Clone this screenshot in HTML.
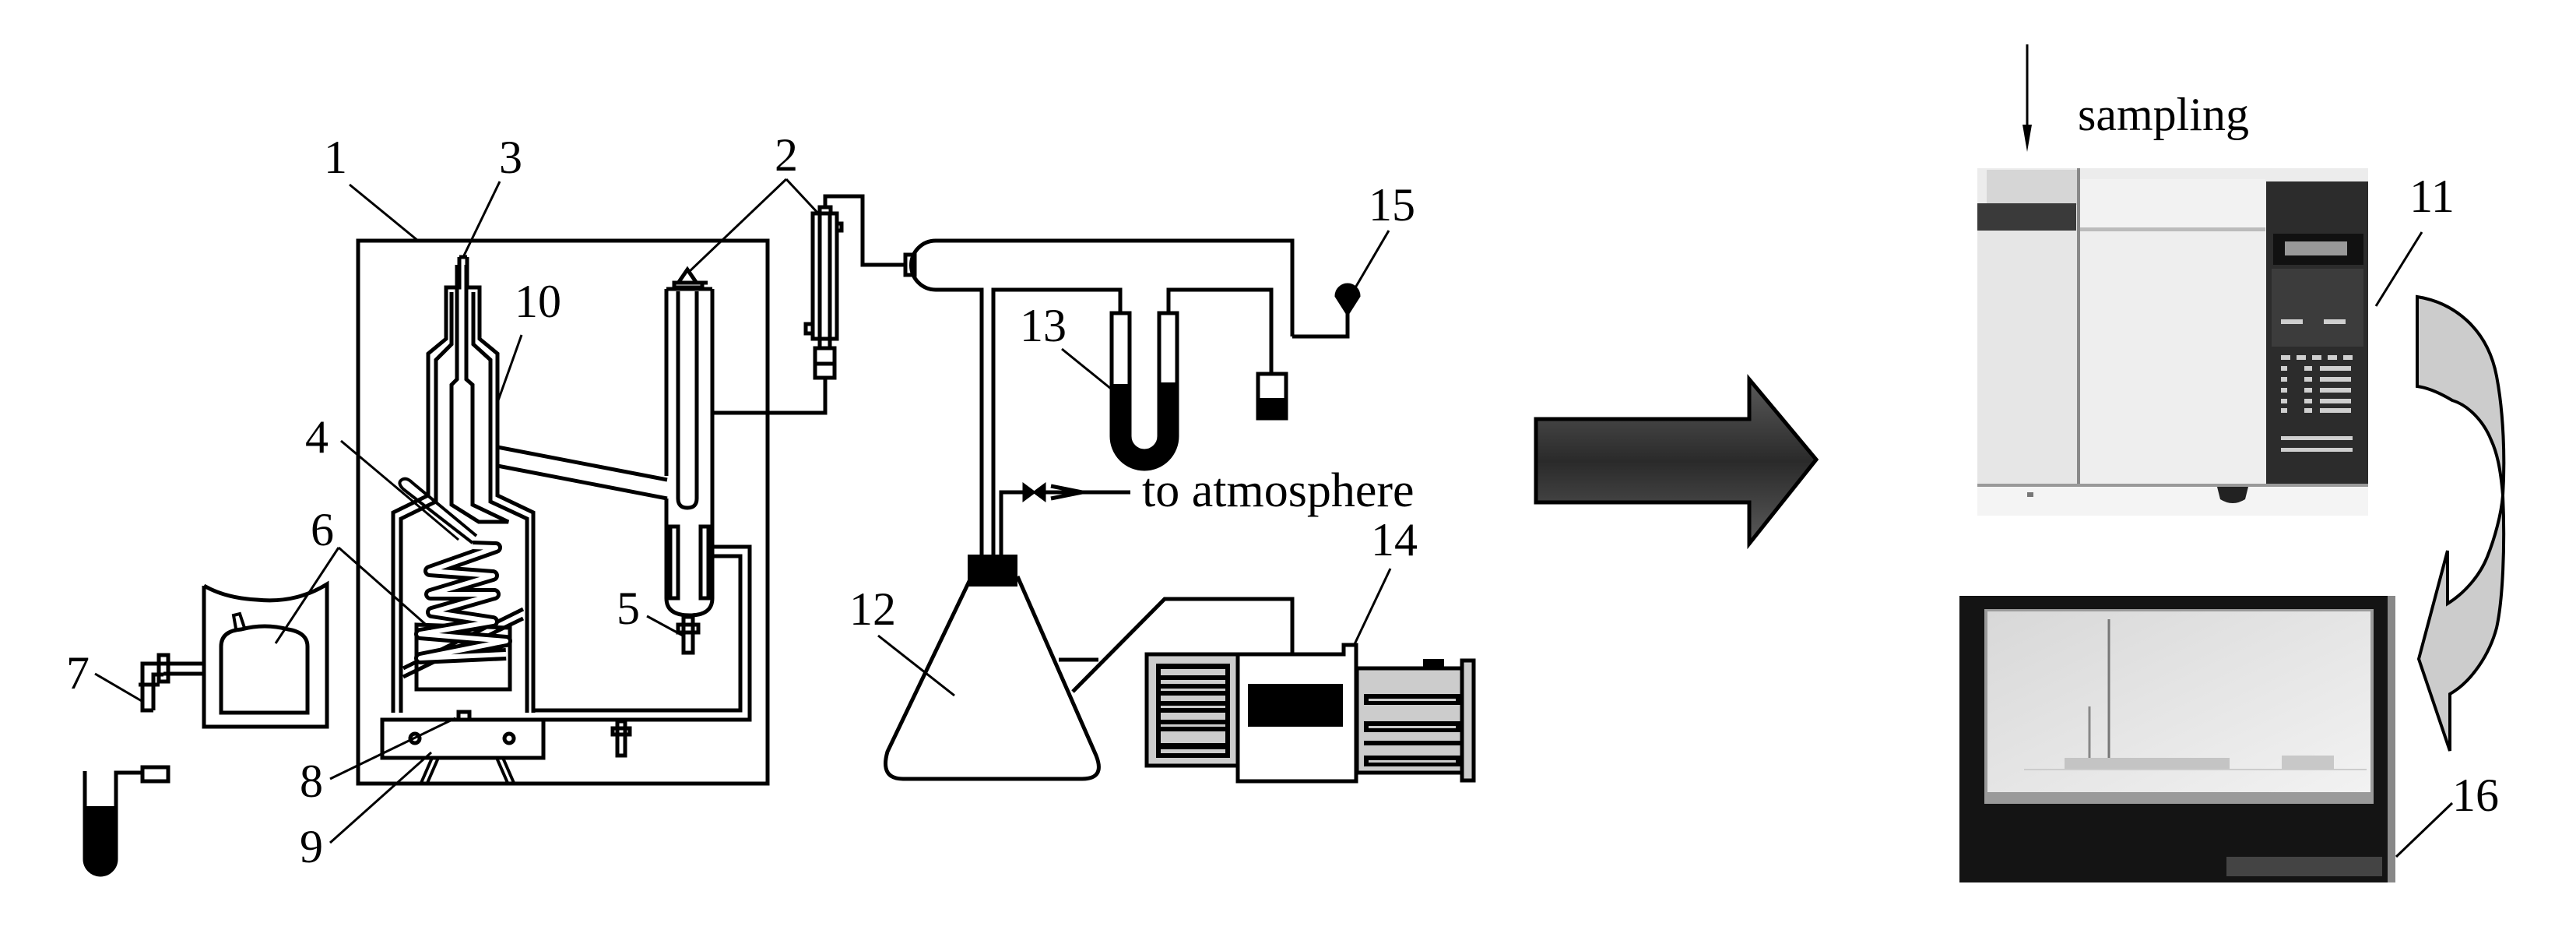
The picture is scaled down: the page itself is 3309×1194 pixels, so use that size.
<!DOCTYPE html>
<html><head><meta charset="utf-8"><style>
html,body{margin:0;padding:0;background:#fff;}
svg{display:block;}
text{font-family:"Liberation Serif",serif;fill:#000;}
</style></head><body>
<svg width="3309" height="1194" viewBox="0 0 3309 1194" xmlns="http://www.w3.org/2000/svg">
<defs>
<linearGradient id="ag" x1="0" y1="0" x2="0" y2="1">
<stop offset="0" stop-color="#5a5a5a"/><stop offset="0.5" stop-color="#2a2a2a"/><stop offset="1" stop-color="#5a5a5a"/>
</linearGradient>
<linearGradient id="scr" x1="0" y1="0" x2="1" y2="1">
<stop offset="0" stop-color="#d8d8d8"/><stop offset="1" stop-color="#f2f2f2"/>
</linearGradient>
</defs>
<g fill="none" stroke="#000" stroke-width="5" stroke-linejoin="miter">
<rect x="460" y="309" width="526" height="697"/>
<path d="M590,330 L590,369 L573,369 L573,435 L550,454 L550,636 L505,658 L505,915"/>
<path d="M600,330 L600,369 L616,369 L616,435 L639,454 L639,636 L685,658 L685,915"/>
<line x1="590" y1="330" x2="600" y2="330"/>
<path d="M580,375 L580,442 L560,462 L560,644 L515,666 L515,915"/>
<path d="M608,375 L608,442 L630,462 L630,644 L677,666 L677,915"/>
<path d="M587,340 L587,487 L580,494 L580,648 L615,670 L653,670 L607,648 L607,494 L599,487 L599,340"/>
<line x1="639" y1="574" x2="857" y2="616"/>
<line x1="639" y1="598" x2="857" y2="640"/>
<!-- condenser -->
<path d="M856,371 L856,611"/>
<path d="M856,640 L856,768 Q856,790 886,790 Q915,790 915,768 L915,371"/>
<line x1="856" y1="371" x2="915" y2="371"/>
<path d="M871,374 L871,640 Q871,652 883,652 Q895,652 895,640 L895,374"/>
<rect x="861" y="676" width="10" height="92"/>
<rect x="900" y="676" width="10" height="92"/>
<rect x="866" y="363" width="36" height="6"/>
<path d="M872,362 L883,346 L894,362"/>
<line x1="902" y1="363" x2="909" y2="363"/>
<rect x="878" y="792" width="12" height="46"/>
<rect x="871" y="802" width="26" height="10"/>
<path d="M915,702 L963,702 L963,924 L684,924"/>
<path d="M915,714 L951,714 L951,912 L684,912"/>
<rect x="793" y="926" width="10" height="44"/>
<rect x="787" y="935" width="22" height="8"/>
<path d="M915,530 L1060,530 L1060,485"/>
<rect x="1044" y="274" width="31" height="161"/>
<line x1="1053" y1="274" x2="1053" y2="435"/>
<line x1="1066" y1="274" x2="1066" y2="435"/>
<rect x="1053" y="266" width="14" height="8"/>
<rect x="1047" y="447" width="25" height="38"/>
<line x1="1047" y1="467" x2="1072" y2="467"/>
<line x1="1053" y1="435" x2="1053" y2="447"/><line x1="1066" y1="435" x2="1066" y2="447"/>
<rect x="1035" y="416" width="9" height="12"/>
<rect x="1075" y="287" width="6" height="9"/>
<path d="M1060,266 L1060,252 L1108,252 L1108,340 L1163,340"/>
<rect x="1163" y="327" width="12" height="26"/>
<path d="M1660,432 L1660,309 L1202,309 A31,31 0 0 0 1202,372 L1261,372 L1261,713"/>
<path d="M1276,713 L1276,372 L1439,372 L1439,402"/>
<path d="M1660,432 L1731,432 L1731,411"/>
<path d="M1501,402 L1501,372 L1633,372 L1633,480"/>
<rect x="1616" y="480" width="36" height="57"/>
<path d="M1428,402 L1428,560 A42,42 0 0 0 1512,560 L1512,402 L1489,402 L1489,560 A19,19 0 0 1 1451,560 L1451,402 Z"/>
<path d="M1286,713 L1286,632 L1316,632"/>
<line x1="1342" y1="632" x2="1452" y2="632"/>
<path d="M1350,624 L1390,632 L1350,640"/>
<path d="M1248,740 L1140,965 Q1130,1000 1160,1000 L1390,1000 Q1420,1000 1408,970 L1307,740"/>
<path d="M1360,847 L1411,847"/>
<path d="M1378,888 L1496,769 L1660,769 L1660,840"/>
<path d="M1731,411 L1731,402 L1717,380 A14,14 0 1 1 1745,380 L1731,402"/>
<rect x="491" y="924" width="207" height="49"/>
<circle cx="533" cy="948" r="6"/><circle cx="654" cy="948" r="6"/>
<rect x="589" y="914" width="14" height="10"/>
<path d="M541,1005 L555,973 M549,1005 L563,973 M638,973 L652,1005 M646,973 L660,1005" stroke-width="4"/>
<path d="M535,802 L655,806 L655,885 L535,885 Z"/>
<line x1="518" y1="858" x2="672" y2="782"/>
<line x1="518" y1="869" x2="672" y2="794"/>
<path d="M607,697 L518,628 Q510,620 516,616 Q522,612 530,620 L612,688" stroke-width="4"/>
<path d="M607,702 L637,703 L552,733 L633,739 L553,763 L635,763 L555,786 L633,798 L540,814 L650,823 L540,845 L650,840" stroke-width="16" stroke-linejoin="round"/>
<path d="M607,702 L637,703 L552,733 L633,739 L553,763 L635,763 L555,786 L633,798 L540,814 L650,823 L540,845 L650,840" stroke="#fff" stroke-width="6" stroke-linejoin="round"/>
<path d="M262,752 L262,933 L420,933 L420,750 Q380,775 330,770 Q290,768 262,752"/>
<path d="M284,915 L284,830 Q284,810 310,808 Q340,800 370,808 Q395,812 395,830 L395,915 Z"/>
<path d="M303,807 L300,790 L308,788 L314,806" stroke-width="4"/>
<path d="M210,852 L262,852 M210,865 L262,865"/>
<path d="M197,912 L183,912 L183,852 L210,852 M197,912 L197,866 L210,866"/>
<line x1="178" y1="879" x2="205" y2="879"/>
<rect x="204" y="841" width="12" height="34"/>
<path d="M109,990 L109,1103 A20,20 0 0 0 149,1103 L149,992 L183,992"/>
<rect x="183" y="985" width="33" height="18"/>
<g stroke-width="3">
<line x1="449" y1="237" x2="537" y2="309"/>
<line x1="642" y1="233" x2="596" y2="328"/>
<line x1="1010" y1="230" x2="884" y2="350"/>
<line x1="1010" y1="230" x2="1052" y2="275"/>
<line x1="670" y1="430" x2="640" y2="514"/>
<line x1="438" y1="566" x2="589" y2="693"/>
<line x1="435" y1="703" x2="354" y2="826"/>
<line x1="435" y1="703" x2="554" y2="808"/>
<line x1="831" y1="791" x2="877" y2="816"/>
<line x1="122" y1="865" x2="182" y2="900"/>
<line x1="424" y1="1000" x2="585" y2="922"/>
<line x1="424" y1="1082" x2="554" y2="966"/>
<line x1="1364" y1="448" x2="1427" y2="499"/>
<line x1="1784" y1="296" x2="1740" y2="371"/>
<line x1="1128" y1="816" x2="1226" y2="893"/>
<line x1="1786" y1="730" x2="1740" y2="827"/>
<line x1="3111" y1="298" x2="3052" y2="393"/>
<line x1="3150" y1="1031" x2="3078" y2="1100"/>
<line x1="2604" y1="57" x2="2604" y2="185"/>
</g>
</g>
<path d="M1428,493 L1451,493 L1451,560 A19,19 0 0 0 1489,560 L1489,491 L1512,491 L1512,560 A42,42 0 0 1 1428,560 Z" fill="#000"/>
<rect x="1616" y="511" width="36" height="27" fill="#000"/>
<rect x="1243" y="712" width="64" height="41" fill="#000"/>
<path d="M1315,622 L1342,642 L1342,622 L1315,642 Z" fill="#000" stroke="#000" stroke-width="3"/>
<path d="M1717,380 A14,14 0 1 1 1745,380 L1731,402 Z" fill="#000"/>
<path d="M109,1035 L149,1035 L149,1103 A20,20 0 0 1 109,1103 Z" fill="#000"/>
<path d="M2604,195 L2598,160 L2610,160 Z" fill="#000"/>
<g stroke="#000" stroke-width="5">
<rect x="1473" y="840" width="119" height="143" fill="#ccc"/>
<rect x="1485" y="852" width="95" height="121" fill="#000" stroke="none"/>
<g fill="#ccc" stroke="none">
<rect x="1491" y="859" width="83" height="8"/><rect x="1491" y="873" width="83" height="5"/><rect x="1491" y="884" width="83" height="3"/>
<rect x="1491" y="893" width="83" height="7"/><rect x="1491" y="906" width="83" height="3"/><rect x="1491" y="915" width="83" height="9"/>
<rect x="1491" y="930" width="83" height="3"/><rect x="1491" y="939" width="83" height="15"/><rect x="1491" y="962" width="83" height="5"/>
</g>
<rect x="1743" y="858" width="140" height="134" fill="#ccc"/>
<rect x="1878" y="848" width="15" height="154" fill="#ccc"/>
<path d="M1590,1003 L1590,840 L1726,840 L1726,828 L1742,828 L1742,1003 Z" fill="#fff"/>
<rect x="1603" y="878" width="122" height="55" fill="#000" stroke="none"/>
<rect x="1828" y="846" width="27" height="12" fill="#000" stroke="none"/>
<g fill="#000" stroke="none">
<rect x="1752" y="891" width="124" height="14"/><rect x="1752" y="926" width="124" height="14"/>
<rect x="1752" y="951" width="124" height="6"/><rect x="1752" y="970" width="124" height="14"/>
</g>
<g fill="#ccc" stroke="none">
<rect x="1758" y="897" width="112" height="3"/><rect x="1758" y="932" width="112" height="3"/><rect x="1758" y="976" width="112" height="3"/>
</g>
</g>
<path d="M1973,538 L2247,538 L2247,487 L2333,590 L2247,698 L2247,645 L1973,645 Z" fill="url(#ag)" stroke="#000" stroke-width="5"/>
<!-- GC -->
<rect x="2540" y="216" width="502" height="446" fill="#ececec"/>
<rect x="2552" y="218" width="118" height="45" fill="#d6d6d6"/>
<rect x="2540" y="261" width="127" height="35" fill="#3a3a3a"/>
<rect x="2540" y="296" width="128" height="325" fill="#e6e6e6"/>
<rect x="2668" y="216" width="4" height="408" fill="#888"/>
<rect x="2672" y="230" width="238" height="62" fill="#f2f2f2"/>
<rect x="2672" y="292" width="238" height="5" fill="#bbb"/>
<rect x="2672" y="297" width="238" height="324" fill="#eeeeee"/>
<rect x="2911" y="233" width="131" height="392" fill="#2c2c2c"/>
<rect x="2920" y="300" width="116" height="40" fill="#111"/>
<rect x="2935" y="310" width="80" height="18" fill="#999"/>
<rect x="2918" y="345" width="118" height="100" fill="#3c3c3c"/>
<g fill="#cfcfcf">
<rect x="2930" y="410" width="28" height="6"/><rect x="2985" y="410" width="28" height="6"/>
<rect x="2930" y="456" width="12" height="6"/><rect x="2950" y="456" width="12" height="6"/><rect x="2970" y="456" width="12" height="6"/><rect x="2990" y="456" width="12" height="6"/><rect x="3010" y="456" width="12" height="6"/>
<rect x="2930" y="470" width="8" height="6"/><rect x="2960" y="470" width="10" height="6"/><rect x="2980" y="470" width="40" height="6"/>
<rect x="2930" y="484" width="8" height="6"/><rect x="2960" y="484" width="10" height="6"/><rect x="2980" y="484" width="40" height="6"/>
<rect x="2930" y="498" width="8" height="6"/><rect x="2960" y="498" width="10" height="6"/><rect x="2980" y="498" width="40" height="6"/>
<rect x="2930" y="512" width="8" height="6"/><rect x="2960" y="512" width="10" height="6"/><rect x="2980" y="512" width="40" height="6"/>
<rect x="2930" y="524" width="8" height="6"/><rect x="2960" y="524" width="10" height="6"/><rect x="2980" y="524" width="40" height="6"/>
<rect x="2930" y="560" width="92" height="5"/><rect x="2930" y="575" width="92" height="5"/>
</g>
<rect x="2540" y="621" width="502" height="41" fill="#f4f4f4"/>
<rect x="2540" y="621" width="502" height="4" fill="#999"/>
<path d="M2848,625 L2888,625 L2884,641 Q2868,651 2852,641 Z" fill="#222"/>
<rect x="2604" y="632" width="8" height="6" fill="#777"/>
<path d="M3105,381 C3150,388 3195,420 3207,483 C3216,530 3218,590 3215,636 C3218,700 3215,770 3207,806 C3198,840 3175,875 3147,891 L3147,964 L3107,846 L3144,707 L3144,775 C3165,762 3185,740 3195,715 C3205,690 3213,660 3215,636 C3212,600 3207,580 3200,565 C3190,540 3170,520 3150,514 C3135,505 3120,498 3105,496 Z" fill="#cccccc" stroke="#000" stroke-width="4"/>
<rect x="2517" y="765" width="560" height="368" fill="#141414"/>
<rect x="3067" y="765" width="10" height="368" fill="#888"/>
<rect x="2549" y="782" width="500" height="250" fill="#9a9a9a"/>
<rect x="2553" y="785" width="492" height="232" fill="url(#scr)"/>
<line x1="2709" y1="795" x2="2709" y2="983" stroke="#777" stroke-width="3"/>
<line x1="2684" y1="907" x2="2684" y2="983" stroke="#888" stroke-width="3"/>
<rect x="2652" y="973" width="212" height="14" fill="#c4c4c4"/>
<rect x="2931" y="970" width="67" height="17" fill="#c8c8c8"/>
<line x1="2600" y1="988" x2="3040" y2="988" stroke="#ccc" stroke-width="2"/>
<rect x="2860" y="1100" width="200" height="25" fill="#444"/>
<g font-size="60" text-anchor="middle">
<text x="431" y="222">1</text>
<text x="656" y="222">3</text>
<text x="1010" y="219">2</text>
<text x="691" y="407">10</text>
<text x="407" y="581">4</text>
<text x="414" y="700">6</text>
<text x="807" y="801">5</text>
<text x="100" y="884">7</text>
<text x="400" y="1023">8</text>
<text x="400" y="1107">9</text>
<text x="1340" y="438">13</text>
<text x="1788" y="283">15</text>
<text x="1121" y="802">12</text>
<text x="1791" y="713">14</text>
<text x="3124" y="272">11</text>
<text x="3180" y="1041">16</text>
</g>
<text x="1467" y="650" font-size="62">to atmosphere</text>
<text x="2669" y="167" font-size="60">sampling</text>
</svg>
</body></html>
